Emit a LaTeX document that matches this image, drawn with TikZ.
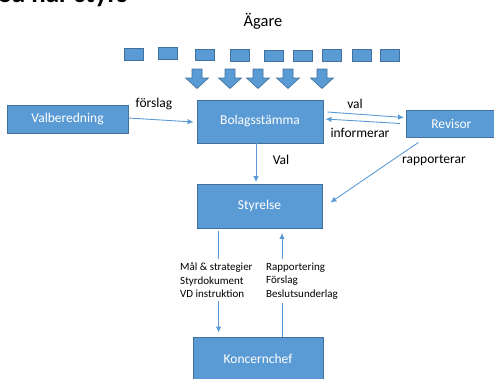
\documentclass[tikz,border=0pt]{standalone}
\usepackage{fontspec}
\setmainfont{Carlito}
\usetikzlibrary{arrows.meta,calc}
\definecolor{boxfill}{HTML}{5B9BD5}
\definecolor{boxline}{HTML}{41719C}
\tikzset{
  bluebox/.style={draw=boxline, fill=boxfill, line width=0.8pt, text=white, inner sep=0pt,
    font=\fontsize{13.5}{15}\selectfont},
  smallrect/.style={draw=boxline, fill=boxfill, line width=0.8pt, minimum width=19pt, minimum height=11.5pt, inner sep=0pt},
  blockarrow/.style={draw=boxline, fill=boxfill, line width=0.6pt, line join=miter},
  conn/.style={draw=boxfill, line width=0.9pt},
  arr/.style={conn, -{Latex[length=6pt,width=5.5pt]}},
  lbl/.style={font=\fontsize{13.5}{15}\selectfont, inner sep=1pt},
  lbls/.style={font=\fontsize{11}{13.5}\selectfont, align=left, fill=white, inner xsep=2pt, inner ysep=3.5pt},
}
\begin{document}
\begin{tikzpicture}[x=1pt,y=-1pt]
\useasboundingbox (0,0) rectangle (494,378);
\begin{scope}
\clip (0,0) rectangle (494,378);
% title (cut off at top)
\node[anchor=base west, inner sep=0pt, font=\fontsize{27}{30}\selectfont\bfseries] (title) at (-1,2) {Så här styrs};

\node[font=\fontsize{16.5}{18}\selectfont] (agare) at (263,21) {Ägare};

% owners
\node[smallrect] (o1) at (133.5,54.5) {};
\node[smallrect] (o2) at (167.5,53.5) {};
\node[smallrect] (o3) at (204.5,55) {};
\node[smallrect] (o4) at (239.5,55.5) {};
\node[smallrect] (o5) at (273.5,56) {};
\node[smallrect] (o6) at (302.5,56) {};
\node[smallrect] (o7) at (331.5,55.5) {};
\node[smallrect] (o8) at (361.5,55.5) {};
\node[smallrect] (o9) at (389.5,55.5) {};

% block arrows
\foreach \c in {197,230,258,288,322}{
  \path[blockarrow] (\c-5,69) -- (\c+5,69) -- (\c+5,78) -- (\c+11.5,78) -- (\c,88.5) -- (\c-11.5,78) -- (\c-5,78) -- cycle;
}

% boxes
\node[bluebox, minimum width=121pt, minimum height=28pt] (valb) at (67.5,119) {Valberedning};
\node[bluebox, minimum width=126pt, minimum height=43pt] (bol) at (260,121.5) {\raisebox{4pt}{Bolagsstämma}};
\node[bluebox, minimum width=94pt, minimum height=27pt, anchor=west] (rev) at (406,123.5) {\hspace*{-4pt}Revisor};
\node[bluebox, minimum width=125pt, minimum height=44pt] (sty) at (259.5,206.5) {\raisebox{4pt}{Styrelse}};
\node[bluebox, minimum width=130pt, minimum height=50pt] (kon) at (258,362) {\raisebox{6pt}{Koncernchef}};
\end{scope}

% connectors
\draw[arr] ($(valb.east)+(0,-1)$) -- ($(bol.west)+(-3,0.5)$);
\node[lbl] (lforslag) at (154,104) {förslag};

\draw[arr] ($(bol.east)+(4,-9.5)$) -- ($(rev.west)+(-2,-6)$);
\node[lbl] (lval) at (355,104) {val};

\draw[arr] ($(rev.west)+(-6,0)$) -- ($(bol.east)+(2,-2.5)$);
\node[lbl] (linf) at (360,133) {informerar};

\draw[arr] ($(bol.south)+(-4,0)$) -- ($(sty.north)+(-3.5,-2)$);
\node[lbl] (lVal) at (281,160) {Val};

\draw[arr] ($(rev.south)+(-35,5)$) -- ($(sty.east)+(8,-4)$);
\node[lbl] (lrap) at (434,160) {rapporterar};

\draw[arr] ($(sty.south west)+(22,2)$) -- ($(kon.north west)+(26,-4)$);
\draw[arr] ($(kon.north)+(24,0)$) -- ($(sty.south)+(22.5,4)$);

\node[lbls, anchor=north west] (lmal) at (178,259) {Mål \& strategier\\Styrdokument\\VD instruktion};
\node[lbls, anchor=north west] (lrapp) at (264,259) {Rapportering\\Förslag\\Beslutsunderlag};
\end{tikzpicture}
\end{document}
